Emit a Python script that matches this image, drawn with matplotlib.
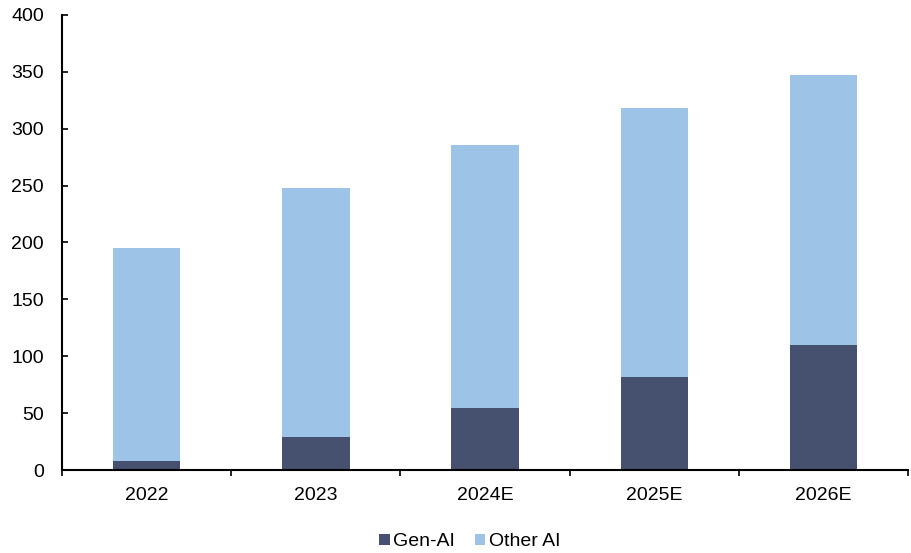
import numpy as np
from matplotlib import pyplot as plt

plt.rcParams['font.family'] = ['Liberation Sans', 'DejaVu Sans']

years = ['2022', '2023', '2024E', '2025E', '2026E']
gen_ai = [8, 29, 54.5, 82, 110]
other_ai = [187, 219, 231.5, 236, 237]

fig = plt.figure(figsize=(9.11, 5.53), dpi=100)
ax = fig.add_axes([0.068, 0.150, 0.929, 0.823])

x = np.arange(len(years))
ax.bar(x, gen_ai, width=0.4, color='#465170', label='Gen-AI')
ax.bar(x, other_ai, width=0.4, bottom=gen_ai, color='#9dc3e6', label='Other AI')

ax.set_xlim(-0.5, len(years) - 0.5)
ax.set_ylim(0, 400)
ax.set_yticks(range(0, 401, 50))
ax.set_xticks(x)
ax.set_xticklabels(years)
ax.set_xticks(np.arange(-0.5, len(years), 1), minor=True)
ax.tick_params(axis='x', which='major', length=0, pad=12, labelsize=14)
ax.tick_params(axis='x', which='minor', length=4, width=1.2, direction='out')
ax.tick_params(axis='y', length=4.5, width=1.2, direction='in', labelsize=14, pad=13)

for s in ['top', 'right']:
	ax.spines[s].set_visible(False)
for s in ['left', 'bottom']:
	ax.spines[s].set_linewidth(1.5)

ax.legend(loc='center', bbox_to_anchor=(0.482, -0.158), ncol=2, frameon=False,
	fontsize=14, handlelength=0.55, handleheight=0.55, handletextpad=0.2, columnspacing=1.0,
	borderpad=0.1)

fig.savefig('out.png', dpi=100)
